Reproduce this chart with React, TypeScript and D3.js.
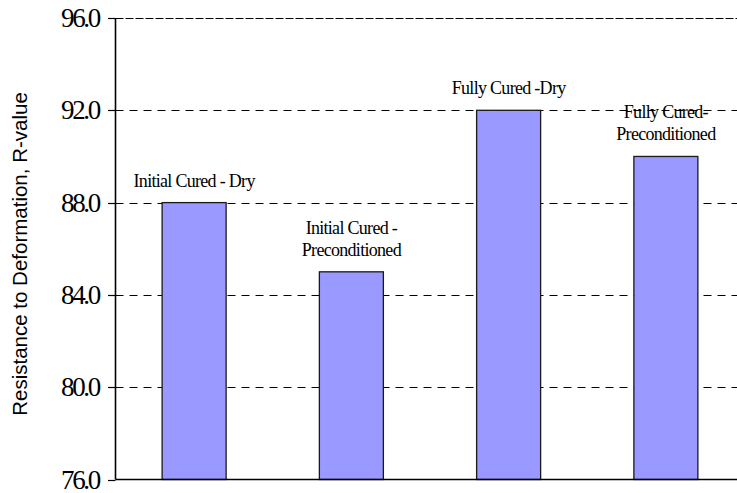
import React from "react";
import * as d3 from "d3";

const categories = ["ICD", "ICP", "FCD", "FCP"];
const values = [88, 85, 92, 90];
const barLabels: string[][] = [
  ["Initial Cured - Dry"],
  ["Initial Cured -", "Preconditioned"],
  ["Fully Cured -Dry"],
  ["Fully Cured-", "Preconditioned"],
];
const yTicks = [76, 80, 84, 88, 92, 96];
const yTitle = "Resistance to Deformation, R-value";

const W = 737;
const H = 493;
const left = 115.5;
const top = 18;
const bottom = 479.5;
const serif = "Liberation Serif, Times New Roman, serif";

export default function App() {
  const y = d3.scaleLinear().domain([76, 96]).range([bottom, top]);
  const x = d3
    .scaleBand<string>()
    .domain(categories)
    .range([left, left + 4 * 157.25])
    .paddingInner(0.593)
    .paddingOuter(0.2965);
  const bw = x.bandwidth();

  return (
    <svg
      width={W}
      height={H}
      style={{ position: "absolute", left: 0, top: 0, background: "#fff" }}
    >
      {/* gridlines */}
      {yTicks
        .filter((t) => t !== 76)
        .map((t) => (
          <line
            key={"g" + t}
            x1={left}
            x2={W}
            y1={Math.round(y(t)) + 0.5}
            y2={Math.round(y(t)) + 0.5}
            stroke="#000"
            strokeWidth={1}
            strokeDasharray={t === 96 ? "8 2" : "8 6"}
          />
        ))}

      {/* bars */}
      {categories.map((c, i) => (
        <rect
          key={c}
          x={x(c)!}
          y={y(values[i])}
          width={bw}
          height={bottom - y(values[i])}
          fill="#9999ff"
          stroke="#1a1a1a"
          strokeWidth={1.3}
        />
      ))}

      {/* bar labels */}
      {categories.map((c, i) => {
        const lines = barLabels[i];
        const cx = x(c)! + bw / 2;
        const base = y(values[i]) - 16 - (lines.length - 1) * 22;
        return (
          <text
            key={"l" + c}
            textAnchor="middle"
            style={{ fontFamily: serif, fontSize: 18, letterSpacing: -0.7 }}
            fill="#000"
          >
            {lines.map((ln, j) => (
              <tspan key={j} x={cx} y={base + j * 22}>
                {ln}
              </tspan>
            ))}
          </text>
        );
      })}

      {/* axes */}
      <line x1={left} x2={left} y1={top} y2={bottom} stroke="#000" strokeWidth={1.6} />
      <line x1={left} x2={W} y1={bottom} y2={bottom} stroke="#000" strokeWidth={1.6} />
      {yTicks.map((t) => (
        <g key={"t" + t}>
          <line
            x1={108}
            x2={left}
            y1={Math.round(y(t)) + 0.5}
            y2={Math.round(y(t)) + 0.5}
            stroke="#000"
            strokeWidth={1.2}
          />
          <text
            x={99}
            y={y(t) + 9}
            textAnchor="end"
            style={{ fontFamily: serif, fontSize: 27, letterSpacing: -2.3 }}
            fill="#000"
          >
            {t.toFixed(1)}
          </text>
        </g>
      ))}

      {/* y-axis title */}
      <text
        transform={`translate(27, ${(88 + 420) / 2}) rotate(-90)`}
        textAnchor="middle"
        style={{ fontFamily: "Liberation Sans, Arial, sans-serif", fontSize: 20.5 }}
        fill="#000"
      >
        {yTitle}
      </text>
    </svg>
  );
}
